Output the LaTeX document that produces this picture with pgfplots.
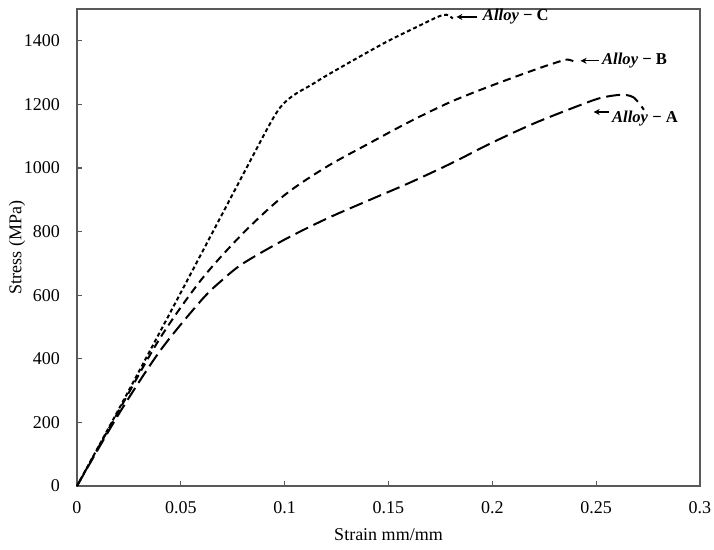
\documentclass[border=0pt]{standalone}
\usepackage{fontspec}
\setmainfont{Liberation Serif}
\usepackage{pgfplots}
\pgfplotsset{compat=1.18}
\usetikzlibrary{arrows.meta}

\begin{document}
\begin{tikzpicture}
\path[use as bounding box] (-38.5pt,-32pt) rectangle (318.5pt,243pt);
\begin{axis}[
  scale only axis,
  width=311.5pt,
  height=238.5pt,
  xmin=0, xmax=0.3,
  ymin=0, ymax=1500,
  xtick={0,0.05,0.1,0.15,0.2,0.25,0.3},
  ytick={0,200,...,1400},
  tick pos=left,
  tick align=inside,
  major tick length=2.5pt,
  axis line style={black!65, line width=0.7pt},
  tick style={black!65, line width=0.6pt},
  font=\fontsize{9}{10}\selectfont,
  /pgf/number format/assume math mode=true,
  /pgf/number format/1000 sep={},
  xticklabel style={/pgf/number format/fixed, /pgf/number format/precision=2, yshift=-4pt},
  yticklabel style={xshift=-5pt},
  xlabel={Strain mm/mm},
  ylabel={Stress (MPa)},
  xlabel style={at={(axis description cs:0.5,-0.103)}, anchor=center},
  ylabel style={at={(axis description cs:-0.0963,0.5)}, anchor=center},
  clip=false,
]
% Alloy-C
\addplot[black, line width=1pt, dash pattern=on 2pt off 1.4pt, smooth, tension=0.5] coordinates {
  (0,0) (0.02,240) (0.04,485) (0.06,732) (0.08,980) (0.092,1128)
  (0.097,1183) (0.101,1212) (0.106,1236) (0.113,1262) (0.12,1290)
  (0.135,1346) (0.15,1400) (0.165,1448) (0.174,1476) (0.178,1482) (0.181,1470)
};
% Alloy-B
\addplot[black, line width=1pt, dash pattern=on 4pt off 2.6pt, smooth, tension=0.5] coordinates {
  (0,0) (0.02,235) (0.04,465) (0.06,650) (0.08,795) (0.10,915)
  (0.12,1003) (0.14,1075) (0.16,1145) (0.18,1208) (0.20,1260)
  (0.22,1308) (0.23,1330) (0.236,1341) (0.240,1333)
};
% Alloy-A
\addplot[black, line width=1pt, dash pattern=on 7pt off 3pt, smooth, tension=0.5] coordinates {
  (0,0) (0.02,225) (0.04,425) (0.06,585) (0.07,648) (0.08,700)
  (0.10,775) (0.12,840) (0.14,897) (0.16,953) (0.18,1014) (0.20,1080)
  (0.22,1140) (0.24,1192) (0.252,1220) (0.262,1230) (0.268,1222) (0.273,1183)
};
% annotations
\draw[-{Stealth[length=3pt,width=3pt]}, line width=0.6pt] (axis cs:0.1925,1475) -- (axis cs:0.1827,1475);
\node[anchor=west, inner sep=0pt, font=\fontsize{8.3}{9}\selectfont\bfseries] at (axis cs:0.1953,1475) {\textit{Alloy} − C};
\draw[-{Stealth[length=3pt,width=3pt]}, line width=0.6pt] (axis cs:0.2512,1337) -- (axis cs:0.2425,1337);
\node[anchor=west, inner sep=0pt, font=\fontsize{8.3}{9}\selectfont\bfseries] at (axis cs:0.2527,1337) {\textit{Alloy} − B};
\draw[-{Stealth[length=3pt,width=3pt]}, line width=0.6pt] (axis cs:0.2560,1176) -- (axis cs:0.2488,1176);
\node[anchor=west, inner sep=0pt, font=\fontsize{8.3}{9}\selectfont\bfseries] at (axis cs:0.2575,1154) {\textit{Alloy} − A};
\end{axis}
\end{tikzpicture}
\end{document}
